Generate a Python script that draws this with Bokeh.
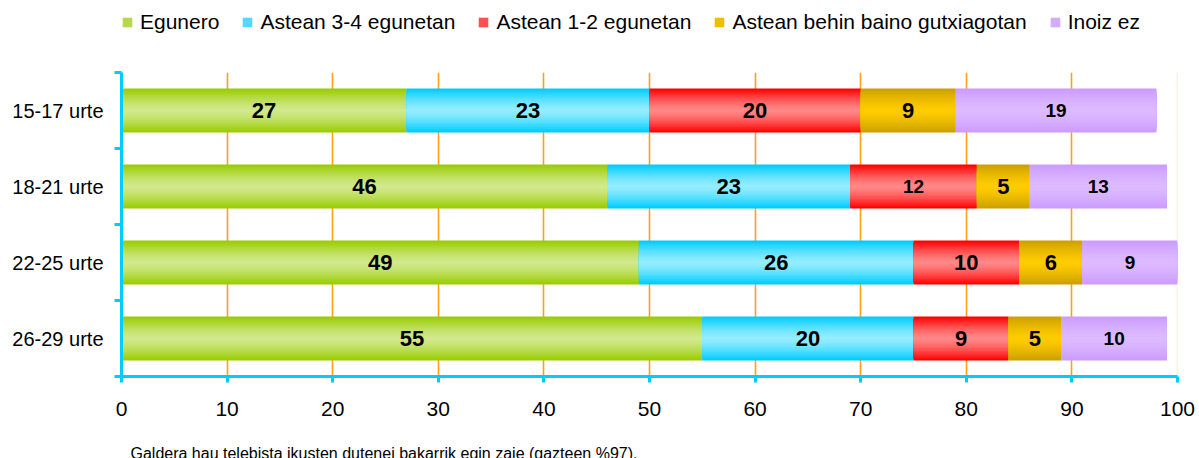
import numpy as np
from bokeh.plotting import figure
from bokeh.layouts import column
from bokeh.models import (FixedTicker, Label, Legend, LegendItem, Span, ColumnDataSource)
from bokeh.embed import file_html
from bokeh.resources import INLINE
from bokeh.core.properties import value, field

# ---------------- data ----------------
categories = ["15-17 urte", "18-21 urte", "22-25 urte", "26-29 urte"]
series_names = ["Egunero", "Astean 3-4 egunetan", "Astean 1-2 egunetan",
                "Astean behin baino gutxiagotan", "Inoiz ez"]
egunero = [27, 46, 49, 55]
astean_3_4 = [23, 23, 26, 20]
astean_1_2 = [20, 12, 10, 9]
astean_behin = [9, 5, 6, 5]
inoiz_ez = [19, 13, 9, 10]
x_ticks = [0, 10, 20, 30, 40, 50, 60, 70, 80, 90, 100]
footnote = "Galdera hau telebista ikusten dutenei bakarrik egin zaie (gazteen %97)."

series_values = [egunero, astean_3_4, astean_1_2, astean_behin, inoiz_ez]

# ---------------- style ----------------
edge_colors = ["#99CC00", "#00CCFF", "#FF0000", "#CCA000", "#CC9BFF"]
center_colors = ["#D2E98F", "#96EEFF", "#FF8A8A", "#FFCC00", "#DDBBFF"]
legend_colors = ["#B5D94A", "#4FDAFF", "#FF5050", "#F0BE00", "#D4ACFF"]
BIG, SMALL = "22px", "19px"
label_sizes = [[BIG] * 4, [BIG] * 4, [BIG, SMALL, BIG, BIG], [BIG] * 4, [SMALL] * 4]
FONT = "Liberation Sans"
AXIS_COL = "#00CCFF"
BAR_H = 0.58
N_LAYERS = 16
W = 1199
LEG_H, MAIN_H, FOOT_H = 70, 364, 24


def hex2rgb(h):
    h = h.lstrip("#")
    return np.array([int(h[i:i + 2], 16) for i in (0, 2, 4)], dtype=float)


def mix(c1, c2, t):
    a, b = hex2rgb(c1), hex2rgb(c2)
    c = a + (b - a) * t
    return "#%02x%02x%02x" % tuple(int(round(v)) for v in c)


def blank_fig(h, yr=(0, 1)):
    f = figure(width=W, height=h, x_range=(0, 1), y_range=yr,
               x_axis_location=None, y_axis_location=None,
               output_backend="svg", toolbar_location=None,
               min_border_left=0, min_border_right=0,
               min_border_top=0, min_border_bottom=0)
    f.outline_line_color = None
    f.grid.visible = False
    return f


ncat = len(categories)
ypos = [ncat - 0.5 - i for i in range(ncat)]

# ---------------- main chart ----------------
p = figure(width=W, height=MAIN_H, x_range=(0, 100), y_range=(0, ncat),
           output_backend="svg", toolbar_location=None,
           min_border_left=121, min_border_right=22,
           min_border_top=2, min_border_bottom=58)
p.outline_line_color = None
p.background_fill_color = "white"

# grid
p.ygrid.grid_line_color = None
p.xgrid.ticker = FixedTicker(ticks=x_ticks[1:-1])
p.xgrid.grid_line_color = "#FF9F1C"
p.xgrid.grid_line_width = 1.6
p.add_layout(Span(location=100, dimension="height", line_color="#FFE8D2",
                  line_width=1.5, level="underlay"))

# legend strip above the chart (its y range keeps the proxy bars out of view)
lf = blank_fig(LEG_H, yr=(100, 101))

# stacked bars with vertical gradient (layered)
lefts = [0] * ncat
legend_items = []
label_x, label_y, label_t, label_s = [], [], [], []
for si, vals in enumerate(series_values):
    rights = [l + v for l, v in zip(lefts, vals)]
    src = ColumnDataSource(dict(y=ypos, left=lefts, right=rights))
    for k in range(N_LAYERS):
        r = 1 - k / N_LAYERS
        t = 1 - r ** 1.4
        col = mix(edge_colors[si], center_colors[si], t)
        p.hbar(y="y", left="left", right="right", height=BAR_H * r,
               source=src, fill_color=col, line_color=None)
    leg_r = lf.hbar(y="y", left="left", right="right", height=BAR_H, source=src,
                    fill_color=legend_colors[si], line_color=None)
    legend_items.append(LegendItem(label=series_names[si], renderers=[leg_r]))
    for ci in range(ncat):
        label_x.append(lefts[ci] + vals[ci] / 2)
        label_y.append(ypos[ci])
        label_t.append(str(vals[ci]))
        label_s.append(label_sizes[si][ci])
    lefts = rights

lsrc = ColumnDataSource(dict(x=label_x, y=label_y, text=label_t, size=label_s))
p.text(x="x", y="y", text="text", source=lsrc, text_align="center",
       text_baseline="middle", text_font=value(FONT), text_font_style="bold",
       text_font_size=field("size"), text_color="black")

# x axis
xa = p.xaxis[0]
xa.ticker = FixedTicker(ticks=x_ticks)
xa.axis_line_color = AXIS_COL
xa.axis_line_width = 3
xa.major_tick_line_color = AXIS_COL
xa.major_tick_line_width = 3
xa.major_tick_out = 6
xa.major_tick_in = 0
xa.minor_tick_line_color = None
xa.major_label_text_font = FONT
xa.major_label_text_font_size = "21px"
xa.major_label_text_color = "black"
xa.major_label_standoff = 19

# y axis
ya = p.yaxis[0]
ya.ticker = FixedTicker(ticks=ypos, minor_ticks=list(range(ncat + 1)))
ya.major_label_overrides = {y: c for y, c in zip(ypos, categories)}
ya.axis_line_color = AXIS_COL
ya.axis_line_width = 3
ya.major_tick_line_color = None
ya.major_tick_out = 0
ya.major_tick_in = 0
ya.minor_tick_line_color = AXIS_COL
ya.minor_tick_line_width = 3
ya.minor_tick_out = 7
ya.minor_tick_in = 0
ya.major_label_text_font = FONT
ya.major_label_text_font_size = "20px"
ya.major_label_text_color = "black"
ya.major_label_standoff = 11

# legend (location = bottom-left corner, px from the strip frame's bottom-left)
legend = Legend(items=legend_items, orientation="horizontal", location=(0, 36),
                padding=0, margin=0, spacing=22, label_standoff=7,
                glyph_width=12, glyph_height=12,
                label_text_font=FONT, label_text_font_size="21px",
                label_text_color="black",
                border_line_color=None, background_fill_alpha=0)
lf.add_layout(legend)

# footnote strip (frames are aligned with the chart's plot area)
ff = blank_fig(FOOT_H)
ff.add_layout(Label(x=9, y=5, x_units="screen", y_units="screen", text=footnote,
                    text_font=FONT, text_font_size="16px", text_color="black",
                    text_baseline="alphabetic"))

page = column(lf, p, ff, spacing=0)
open("out.html", "w").write(file_html(page, INLINE))
